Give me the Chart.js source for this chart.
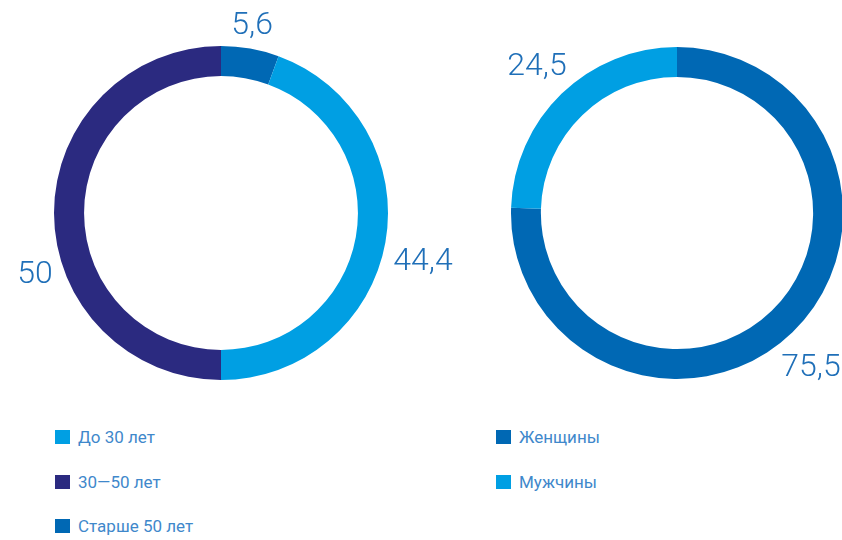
<!DOCTYPE html>
<html>
<head>
<meta charset="utf-8">
<script src="https://cdn.jsdelivr.net/npm/chart.js@4.4.1/dist/chart.umd.min.js"></script>
<style>
html,body{margin:0;padding:0;background:#fff;overflow:hidden;width:842px;height:540px;}
#wrap{position:relative;width:842px;height:540px;overflow:hidden;}
canvas{position:absolute;top:0;}
.legend{position:absolute;font-family:Roboto,"Noto Sans",sans-serif;font-size:17px;color:#3f88cb;}
.legend .item{position:absolute;left:0;white-space:nowrap;height:20px;line-height:20px;}
.legend .sw{position:absolute;left:0;top:3px;width:15px;height:14px;}
.legend .tx{position:absolute;left:23px;top:0;}
</style>
</head>
<body>
<div id="wrap">
<canvas id="c1" width="470" height="400" style="left:0"></canvas>
<canvas id="c2" width="375" height="400" style="left:470px"></canvas>
<div class="legend" id="lg1" style="left:55px;top:427px;"></div>
<div class="legend" id="lg2" style="left:496px;top:427px;"></div>
</div>
<script>
// ---- data ----
const ageLabels = ["Старше 50 лет", "До 30 лет", "30—50 лет"];
const ageValues = [5.6, 44.4, 50];
const ageLegendOrder = ["До 30 лет", "30—50 лет", "Старше 50 лет"];
const genderLabels = ["Женщины", "Мужчины"];
const genderValues = [75.5, 24.5];
const genderLegendOrder = ["Женщины", "Мужчины"];

const COL_DARK = "#0068b4";
const COL_LIGHT = "#009fe3";
const COL_NAVY = "#2b2a80";

const fmt = v => String(v).replace(".", ",");

const valueLabels = {
  id: "valueLabels",
  afterDatasetsDraw(chart, args, opts) {
    const ctx = chart.ctx;
    const meta = chart.getDatasetMeta(0);
    const ds = chart.data.datasets[0];
    ctx.save();
    ctx.font = "300 32px Roboto, 'Noto Sans', sans-serif";
    ctx.fillStyle = "#1f6fb8";
    ctx.textAlign = "center";
    ctx.textBaseline = "alphabetic";
    meta.data.forEach((arc, i) => {
      const p = arc.getProps(["x", "y", "startAngle", "endAngle", "outerRadius"], true);
      const mid = (p.startAngle + p.endAngle) / 2;
      const r = p.outerRadius + 28;
      const off = (opts.offsets && opts.offsets[i]) || [0, 0];
      const x = p.x + Math.cos(mid) * r + off[0];
      const y = p.y + Math.sin(mid) * r + off[1] + 11;
      ctx.fillText(fmt(ds.data[i]), x, y);
    });
    ctx.restore();
  }
};

function makeChart(id, labels, values, colors, padding, offsets) {
  return new Chart(document.getElementById(id), {
    type: "doughnut",
    data: {
      labels: labels,
      datasets: [{ data: values, backgroundColor: colors, borderWidth: 0, hoverOffset: 0 }]
    },
    options: {
      responsive: false,
      devicePixelRatio: 1,
      animation: false,
      cutout: "82%",
      rotation: 0,
      layout: { padding: padding },
      plugins: {
        legend: { display: false },
        tooltip: { enabled: false },
        valueLabels: { offsets: offsets }
      }
    },
    plugins: [valueLabels]
  });
}

const c1 = makeChart("c1", ageLabels, ageValues, [COL_DARK, COL_LIGHT, COL_NAVY],
  { left: 54, right: 82, top: 46, bottom: 20 },
  [[-3, 2], [10, 12], [9, 59]]);
const c2 = makeChart("c2", genderLabels, genderValues, [COL_DARK, COL_LIGHT],
  { left: 41, right: 2, top: 46, bottom: 20 },
  [[-1, 13], [-5, -10]]);

function buildLegend(chart, el, order) {
  const items = Chart.overrides.doughnut.plugins.legend.labels.generateLabels(chart);
  order.forEach((name, row) => {
    const it = items.find(x => x.text === name);
    const d = document.createElement("div");
    d.className = "item";
    d.style.top = (row * 44.5) + "px";
    const sw = document.createElement("span");
    sw.className = "sw";
    sw.style.background = it.fillStyle;
    const tx = document.createElement("span");
    tx.className = "tx";
    tx.textContent = it.text;
    d.appendChild(sw); d.appendChild(tx);
    el.appendChild(d);
  });
}
buildLegend(c1, document.getElementById("lg1"), ageLegendOrder);
buildLegend(c2, document.getElementById("lg2"), genderLegendOrder);
</script>
</body>
</html>
